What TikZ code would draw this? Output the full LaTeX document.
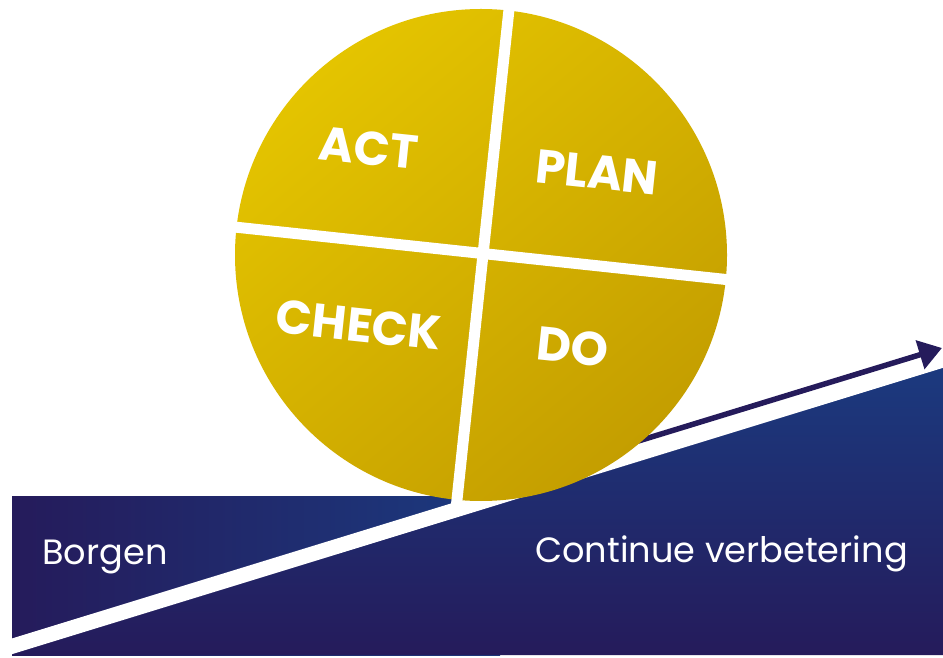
\documentclass[tikz,border=0pt]{standalone}
\usepackage{fontspec}
\newfontfamily\popfont{Poppins}
\usetikzlibrary{arrows.meta}
\definecolor{navydark}{HTML}{251B5B}
\definecolor{navyblue}{HTML}{1B3A7F}
\definecolor{goldlight}{HTML}{E4C400}
\definecolor{golddark}{HTML}{C49E00}

\begin{document}
\begin{tikzpicture}[x=0.02cm, y=-0.02cm,
        pdca/.style={text=white, font=\popfont\bfseries\fontsize{27}{27}\selectfont, rotate=-6, inner sep=0pt},
        side/.style={text=white, font=\popfont\fontsize{20}{20}\selectfont, anchor=base west, inner sep=0pt}]
    \useasboundingbox (0,0) rectangle (943,658);
    % ground
    \shade[left color=navydark, right color=navyblue] (12,496) rectangle (500,655);
    \shade[top color=navyblue, bottom color=navydark] (12,650) -- (943,364) -- (943,655) -- (12,655) -- cycle;
    \draw[white, line width=0.3cm] (0,650) -- (943,360);
    \draw[navydark, line width=0.11cm, -{Triangle[length=0.46cm, width=0.58cm]}] (560,465) -- (942,348);
    % wheel
    \shade[top color=goldlight, bottom color=golddark, shading angle=40] (481,255) circle (246);
    \draw[white, line width=0.22cm] (510,0) -- (456,509);
    \draw[white, line width=0.22cm] (225,226) -- (740,281);
    \node[pdca] (act) at (369,148) {ACT};
    \node[pdca] (plan) at (597,172) {PLAN};
    \node[pdca] (check) at (359,325) {CHECK};
    \node[pdca] (do) at (573,347) {DO};
    % labels
    \node[side] (borgen) at (42,564) {Borgen};
    \node[side] (cont) at (535,562) {Continue verbetering};
\end{tikzpicture}
\end{document}
